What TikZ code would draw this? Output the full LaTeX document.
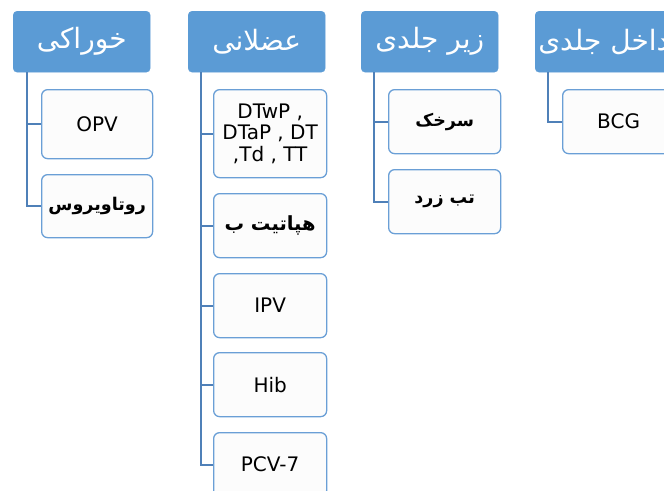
\documentclass[tikz,border=0pt]{standalone}
\usepackage{fontspec}
\setmainfont{DejaVu Sans}
\newfontfamily\arabicfont[Script=Arabic]{DejaVu Sans}
\TeXXeTstate=1
\definecolor{hdrblue}{HTML}{5B9BD5}
\definecolor{linkblue}{HTML}{4F80B8}
\definecolor{boxline}{HTML}{6A9FD6}
\definecolor{boxfill}{HTML}{FCFCFC}
\tikzset{
  x=1pt, y=-1pt,
  hdr/.style={draw=hdrblue, fill=hdrblue, rounded corners=4pt, text=white,
    minimum width=137pt, minimum height=61pt, inner sep=0pt, anchor=north west,
    font=\arabicfont\fontsize{28}{32}\selectfont},
  child/.style={draw=boxline, line width=1.3pt, fill=boxfill, rounded corners=6pt,
    text=black, minimum width=111pt, minimum height=64pt, inner sep=0pt, anchor=north west,
    align=center, font=\fontsize{20}{21.7}\selectfont},
  fa/.style={font=\arabicfont\bfseries\fontsize{#1}{21.5}\selectfont},
  link/.style={draw=linkblue, line width=1.8pt}
}
\begin{document}
\begin{tikzpicture}
\useasboundingbox (0,0) rectangle (664,490);
\clip (0,0) rectangle (664,490);
% headers
\node[hdr] (h1) at (13,11) {\beginR خوراکی\endR};
\node[hdr] (h2) at (188,11) {\beginR عضلانی\endR};
\node[hdr] (h3) at (361,11) {\beginR زیر جلدی\endR};
\node[hdr] (h4) at (535,11) {\beginR داخل جلدی\endR};
% column 1
\node[child, minimum height=69pt] (c11) at (41,89) {OPV};
\node[child, minimum height=63pt, fa=17.5] (c12) at (41,174) {\beginR روتاویروس\endR};
% column 2
\node[child, minimum width=113pt, minimum height=88pt] (c21) at (213,89) {DTwP ,\\DTaP , DT\\,Td , TT};
\node[child, minimum width=113pt, fa=19.5] (c22) at (213,193) {\beginR هپاتیت ب\endR};
\node[child, minimum width=113pt] (c23) at (213,273) {IPV};
\node[child, minimum width=113pt] (c24) at (213,352) {Hib};
\node[child, minimum width=113pt] (c25) at (213,432) {PCV-7};
% column 3
\node[child, minimum width=112pt, fa=17.5] (c31) at (388,89) {\beginR سرخک\endR};
\node[child, minimum width=112pt, fa=17.5] (c32) at (388,169) {\beginR تب زرد\endR};
% column 4
\node[child, minimum width=112pt] (c41) at (562,89) {BCG};
% connectors
\coordinate (l1) at (27,72);
\coordinate (l2) at (201,72);
\coordinate (l3) at (374,72);
\coordinate (l4) at (548,72);
\draw[link] (l1 |- h1.south) |- (c11.west);
\draw[link] (l1 |- h1.south) |- (c12.west);
\draw[link] (l2 |- h2.south) |- (c21.west);
\draw[link] (l2 |- h2.south) |- (c22.west);
\draw[link] (l2 |- h2.south) |- (c23.west);
\draw[link] (l2 |- h2.south) |- (c24.west);
\draw[link] (l2 |- h2.south) |- (c25.west);
\draw[link] (l3 |- h3.south) |- (c31.west);
\draw[link] (l3 |- h3.south) |- (c32.west);
\draw[link] (l4 |- h4.south) |- (c41.west);
\end{tikzpicture}
\end{document}
